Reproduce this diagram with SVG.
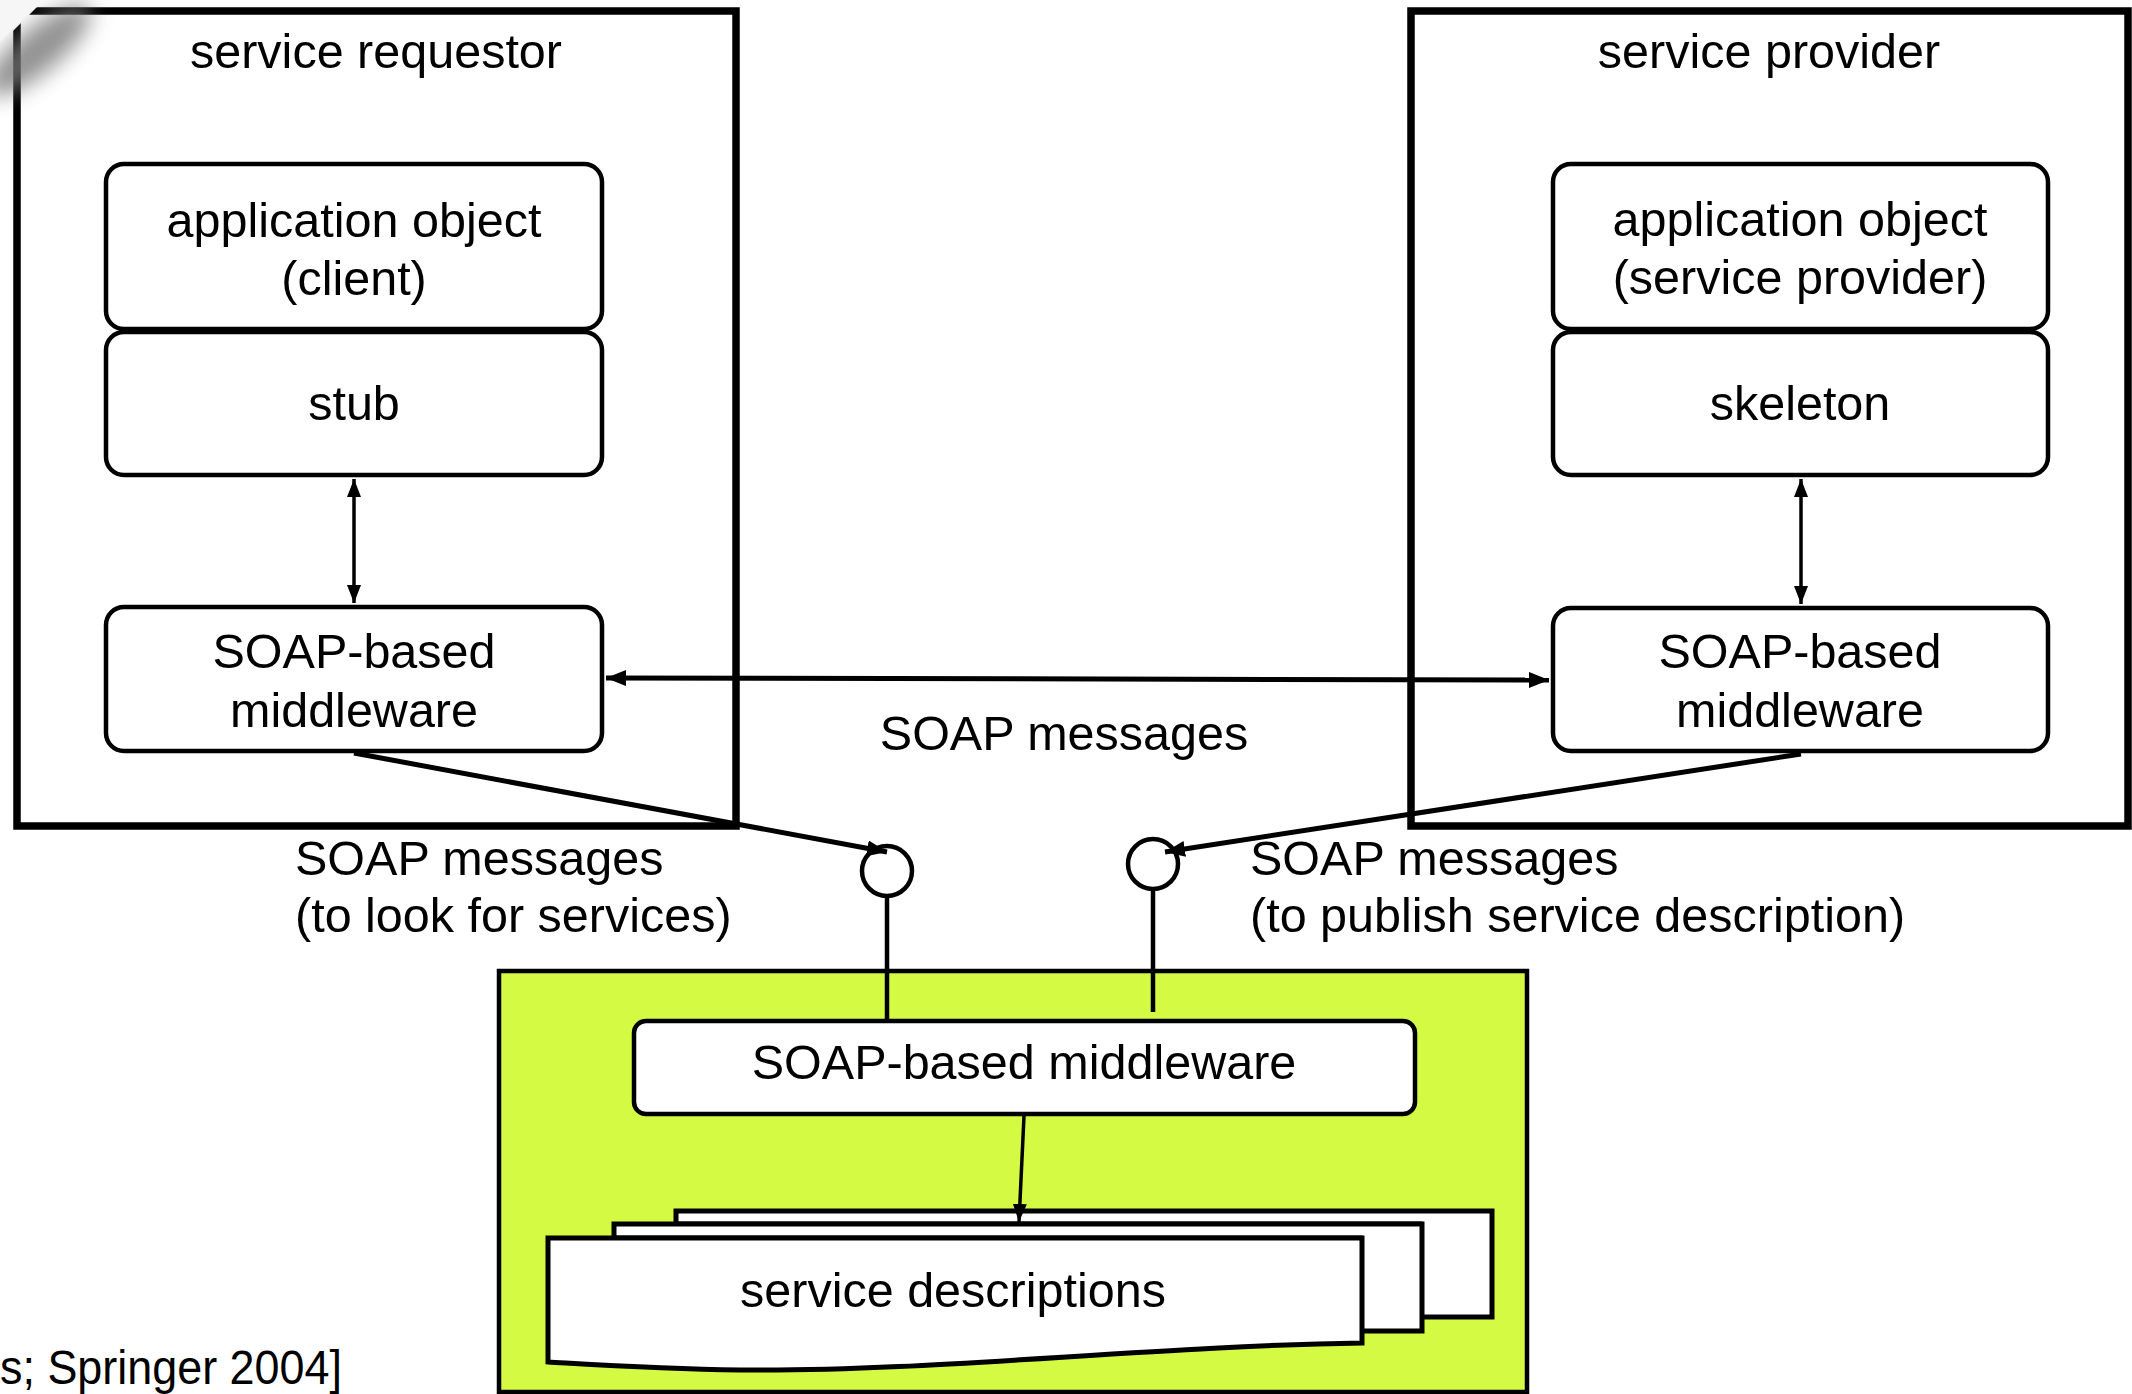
<svg xmlns="http://www.w3.org/2000/svg" width="2132" height="1394" viewBox="0 0 2132 1394">
  <style>
    text { font-family: "Liberation Sans", Arial, Helvetica, sans-serif; font-size: 48.5px; fill: #000; }
    .c { text-anchor: middle; }
    .frame { fill: #fff; stroke: #000; stroke-width: 7.5; }
    .box { fill: #fff; stroke: #000; stroke-width: 4.5; }
    .doc { fill: #fff; stroke: #000; stroke-width: 5; stroke-linejoin: miter; }
    .link { fill: none; stroke: #000; }
    .port { fill: #fff; stroke: #000; stroke-width: 4.5; }
  </style>
  <defs>
    <marker id="head" viewBox="0 0 20 16" refX="20" refY="8" markerWidth="20" markerHeight="16" markerUnits="userSpaceOnUse" orient="auto-start-reverse">
      <path d="M0,0 L20,8 L0,16 Z" fill="#000"/>
    </marker>
    <marker id="headS" viewBox="0 0 18 14" refX="18" refY="7" markerWidth="18" markerHeight="14" markerUnits="userSpaceOnUse" orient="auto-start-reverse">
      <path d="M0,0 L18,7 L0,14 Z" fill="#000"/>
    </marker>
    <filter id="soft" x="-50%" y="-50%" width="200%" height="200%">
      <feGaussianBlur stdDeviation="11"/>
    </filter>
  </defs>

  <rect width="2132" height="1394" fill="#fff"/>

  <!-- service requestor -->
  <g id="requestor">
    <rect class="frame" x="17" y="11" width="719" height="815"/>
    <text class="c" x="376" y="68">service requestor</text>
  </g>
  <g id="client-object">
    <rect class="box" x="106" y="164" width="496" height="165" rx="18"/>
    <text class="c" x="354" y="237">application object</text>
    <text class="c" x="354" y="295">(client)</text>
  </g>
  <g id="stub">
    <rect class="box" x="106" y="332" width="496" height="143" rx="18"/>
    <text class="c" x="354" y="420">stub</text>
  </g>
  <g id="requestor-middleware">
    <rect class="box" x="106" y="607" width="496" height="144" rx="18"/>
    <text class="c" x="354" y="668">SOAP-based</text>
    <text class="c" x="354" y="727">middleware</text>
  </g>

  <!-- service provider -->
  <g id="provider">
    <rect class="frame" x="1411" y="11" width="717" height="815"/>
    <text class="c" x="1769" y="68">service provider</text>
  </g>
  <g id="provider-object">
    <rect class="box" x="1553" y="164" width="495" height="165" rx="18"/>
    <text class="c" x="1800" y="236">application object</text>
    <text class="c" x="1800" y="294">(service provider)</text>
  </g>
  <g id="skeleton">
    <rect class="box" x="1553" y="332" width="495" height="143" rx="18"/>
    <text class="c" x="1800" y="420">skeleton</text>
  </g>
  <g id="provider-middleware">
    <rect class="box" x="1553" y="608" width="495" height="143" rx="18"/>
    <text class="c" x="1800" y="668">SOAP-based</text>
    <text class="c" x="1800" y="727">middleware</text>
  </g>

  <!-- registry -->
  <g id="registry">
    <rect x="499" y="971" width="1028" height="421" fill="#d5fa43" stroke="#000" stroke-width="4.5"/>
  </g>
  <g id="registry-middleware">
    <rect class="box" x="634" y="1021" width="781" height="93" rx="12"/>
    <text class="c" x="1024" y="1079">SOAP-based middleware</text>
  </g>
  <g id="service-descriptions">
    <path class="doc" d="M676,1211 H1492 V1317 H1420 V1224 H676 Z"/>
    <path class="doc" d="M614,1224 H1422 V1331 H1360 V1238 H614 Z"/>
    <path class="doc" d="M548,1238 H1362 V1343 C1150,1346 930,1372 740,1370 C660,1369 600,1365 548,1362 Z"/>
    <text class="c" x="953" y="1307">service descriptions</text>
  </g>

  <!-- interface ports -->
  <g id="lookup-port">
    <circle class="port" cx="887" cy="871" r="25"/>
  </g>
  <g id="publish-port">
    <circle class="port" cx="1153" cy="864" r="25"/>
  </g>

  <!-- connectors -->
  <g id="connectors">
    <line class="link" x1="354" y1="479" x2="354" y2="603" stroke-width="3.5" marker-start="url(#headS)" marker-end="url(#headS)"/>
    <line class="link" x1="1801" y1="479" x2="1801" y2="604" stroke-width="3.5" marker-start="url(#headS)" marker-end="url(#headS)"/>
    <line class="link" x1="606" y1="678" x2="1549" y2="680" stroke-width="5" marker-start="url(#head)" marker-end="url(#head)"/>
    <line class="link" x1="354" y1="753" x2="887" y2="852" stroke-width="5" marker-end="url(#head)"/>
    <line class="link" x1="1801" y1="754" x2="1165" y2="852" stroke-width="5" marker-end="url(#head)"/>
    <line class="link" x1="887" y1="896" x2="887" y2="1021" stroke-width="4.5"/>
    <line class="link" x1="1153" y1="889" x2="1153" y2="1012" stroke-width="4.5"/>
    <line class="link" x1="1024" y1="1116" x2="1019" y2="1222" stroke-width="3.5" marker-end="url(#headS)"/>
  </g>

  <!-- labels -->
  <g id="labels">
    <text class="c" x="1064" y="750">SOAP messages</text>
    <text x="295" y="875">SOAP messages</text>
    <text x="295" y="932">(to look for services)</text>
    <text x="1250" y="875">SOAP messages</text>
    <text x="1250" y="932">(to publish service description)</text>
    <text x="0" y="1384" font-size="45" fill="#222" textLength="342" lengthAdjust="spacingAndGlyphs">s; Springer 2004]</text>
  </g>

  <!-- curled page corner -->
  <g id="corner">
    <polygon points="0,0 44,0 0,44" fill="#fff"/>
    <ellipse cx="38" cy="50" rx="66" ry="22" transform="rotate(-40 38 50)" fill="#777" opacity="0.8" filter="url(#soft)"/>
    <polygon points="0,0 42,0 0,42" fill="#f6f6f6"/>
  </g>
</svg>
